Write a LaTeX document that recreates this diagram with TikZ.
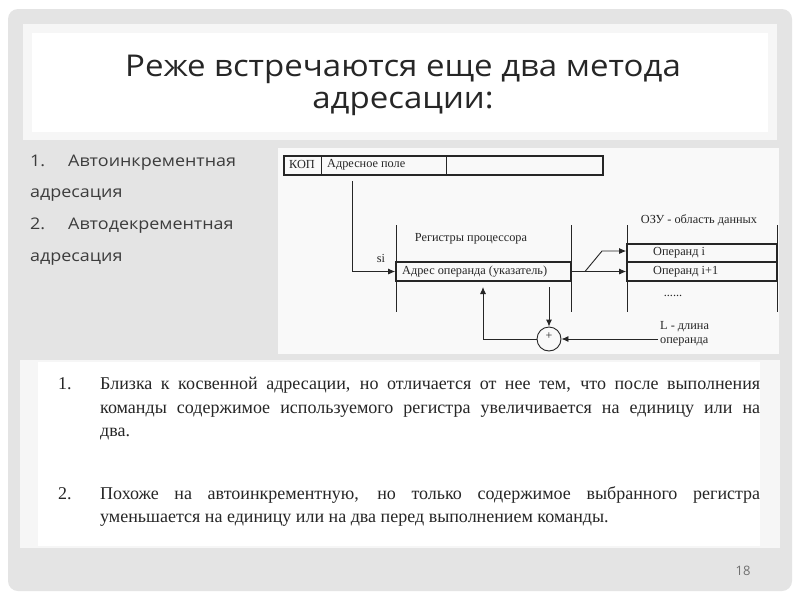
\documentclass[tikz,border=0pt]{standalone}
\usepackage{fontspec}
\setmainfont{Liberation Serif}
\newfontfamily\sansf{Open Sans}
\usetikzlibrary{arrows.meta}
\definecolor{slidegray}{HTML}{E4E4E4}
\definecolor{paneledge}{HTML}{F6F6F6}
\definecolor{diagbg}{HTML}{F9F9F9}
\definecolor{ink}{HTML}{262626}
\definecolor{listink}{HTML}{3C3C3C}
\definecolor{numgray}{HTML}{707070}
\newcommand{\wide}[2]{\scalebox{#1}[1]{#2}}
\tikzset{
  dtext/.style={font=\fontsize{12.3}{14}\selectfont, text=ink, inner sep=0pt},
  dline/.style={draw=ink, line width=0.9pt},
  dbox/.style={draw=ink, line width=1.6pt, inner sep=0pt},
  arr/.style={draw=ink, line width=0.9pt, -{Latex[length=7pt,width=6pt]}},
  titletext/.style={font=\sansf\fontsize{30}{34}\selectfont, text=ink, inner sep=0pt, anchor=base},
  listtext/.style={font=\sansf\fontsize{16}{18}\selectfont, text=listink, inner sep=0pt, anchor=base west},
  bodytext/.style={font=\fontsize{18}{21}\selectfont, text=ink, inner sep=0pt, anchor=base west},
}
\begin{document}
\begin{tikzpicture}[x=1pt,y=-1pt]
\useasboundingbox (0,0) rectangle (800,600);
\fill[white] (0,0) rectangle (800,600);
\fill[slidegray, rounded corners=10pt] (8,9) rectangle (792,591);
% title panel
\fill[paneledge] (23,24) rectangle (777,140);
\fill[white] (32,33) rectangle (768,132);
\node[titletext] (t1) at (403,76) {\wide{1.1}{Реже встречаются еще два метода}};
\node[titletext] (t2) at (403,108) {\wide{1.1}{адресации:}};
% left list
\node[listtext] (l1n) at (30,166) {\wide{1.12}{1.}};
\node[listtext] (l1) at (68,166) {\wide{1.12}{Автоинкрементная}};
\node[listtext] (l1b) at (30,197) {\wide{1.12}{адресация}};
\node[listtext] (l2n) at (30,229) {\wide{1.12}{2.}};
\node[listtext] (l2) at (68,229) {\wide{1.12}{Автодекрементная}};
\node[listtext] (l2b) at (30,261) {\wide{1.12}{адресация}};
% diagram panel
\fill[diagbg] (278,148) rectangle (779,354);
\node[dbox, minimum width=319pt, minimum height=19pt, anchor=north west] (kop) at (283,155) {};
\draw[line width=0.9pt, draw=ink] (321,155) -- (321,174);
\draw[line width=0.9pt, draw=ink] (446,155) -- (446,174);
\node[dtext] (kopt) at (302,164.5) {КОП};
\node[dtext, anchor=west] (adrp) at (327,164.5) {Адресное поле};
% register area
\draw[dline] (396,225) -- (396,312);
\draw[dline] (571,225) -- (571,312);
\node[dtext] (regl) at (471,239) {Регистры процессора};
\node[dbox, minimum width=175pt, minimum height=19pt] (reg) at (483.5,271.5) {};
\node[dtext, anchor=west] (regt) at (402,271.5) {Адрес операнда (указатель)};
\node[dtext] (si) at (381,258) {si};
\coordinate (v1) at (352,181);
\draw[arr] (v1) |- (reg.west);
% memory area
\draw[dline] (627,225) -- (627,312);
\draw[dline] (777,225) -- (777,312);
\node[dtext] (ozu) at (699,220) {ОЗУ - область данных};
\node[dbox, minimum width=150pt, minimum height=18.5pt] (op1) at (702,253) {};
\node[dbox, minimum width=150pt, minimum height=18.5pt] (op2) at (702,271.5) {};
\node[dtext, anchor=west] (op1t) at (653,253) {Операнд i};
\node[dtext, anchor=west] (op2t) at (653,271.5) {Операнд i+1};
\node[dtext] (dots) at (673,296) {......};
\draw[arr] (reg.east) -- (op2.west);
\coordinate (br) at (585,271.5);
\coordinate (bk) at (602,251);
\draw[arr] (br) -- (bk) -- (bk -| op1.west);
% adder
\node[circle, draw=ink, line width=0.9pt, minimum size=24pt, inner sep=0pt] (sum) at (549,339) {};
\node[dtext, font=\fontsize{12}{12}\selectfont] (plus) at (549,336) {+};
\coordinate (d1) at (549,287);
\draw[arr] (d1) -- (sum.north);
\coordinate (u1) at (483,287);
\draw[arr] (sum.west) -| (u1);
\node[dtext, align=left, anchor=west, font=\fontsize{12.3}{13.5}\selectfont] (L) at (660,334) {L - длина\\операнда};
\coordinate (lsrc) at (658,339);
\draw[arr] (lsrc) -- (sum.east);
% bottom panel
\fill[paneledge] (20,360) rectangle (780,548);
\fill[white] (38,362) rectangle (760,546);
\node[bodytext] (b1n) at (58,389) {1.};
\node[bodytext] (b1a) at (100,389) {\makebox[660pt][s]{Близка к косвенной адресации, но отличается от нее тем, что после выполнения}};
\node[bodytext] (b1b) at (100,413) {\makebox[660pt][s]{команды содержимое используемого регистра увеличивается на единицу или на}};
\node[bodytext] (b1c) at (100,436) {два.};
\node[bodytext] (b2n) at (58,499) {2.};
\node[bodytext] (b2a) at (100,499) {\makebox[660pt][s]{Похоже на автоинкрементную, но только содержимое выбранного регистра}};
\node[bodytext] (b2b) at (100,522) {уменьшается на единицу или на два перед выполнением команды.};
% page number
\node[font=\sansf\fontsize{13}{15}\selectfont, text=numgray, inner sep=0pt] (pg) at (743,571) {18};
\end{tikzpicture}
\end{document}
